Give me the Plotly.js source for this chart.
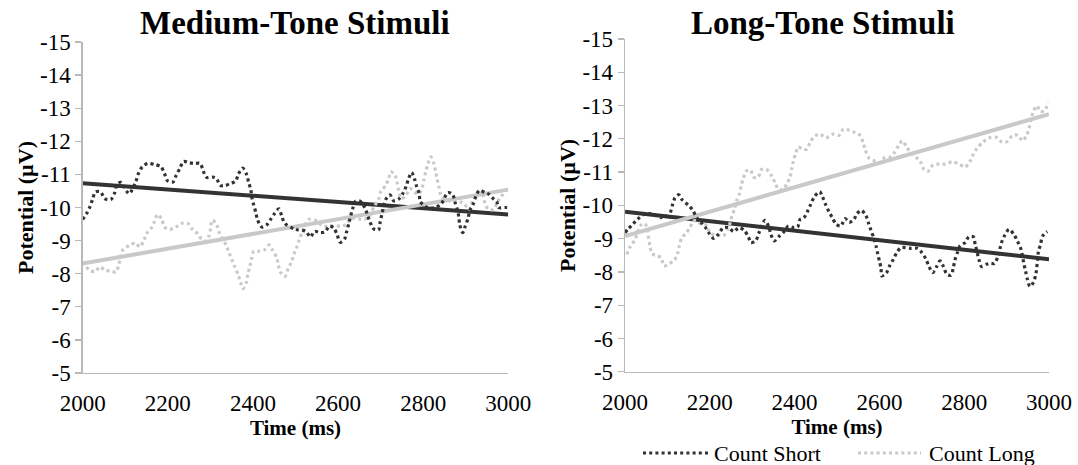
<!DOCTYPE html>
<html>
<head>
<meta charset="utf-8">
<script src="https://cdn.plot.ly/plotly-3.0.1.min.js"></script>
<style>html,body{margin:0;padding:0;background:#fff;}#chart{width:1078px;height:465px;}</style>
</head>
<body>
<div id="chart"></div>
<script>
// ---------- DATA ----------
const panelTitles = ["Medium-Tone Stimuli", "Long-Tone Stimuli"];
const seriesNames = ["Count Short", "Count Long"];
const xTickVals = [2000, 2200, 2400, 2600, 2800, 3000];
const yTickVals = [-15, -14, -13, -12, -11, -10, -9, -8, -7, -6, -5];
const yTickText = ["-15", "-14", "-13", "-12", "-11", "-10", "-9", "-8", "-7", "-6", "-5"];

// Medium-tone, Count Short
const medShortTime = [2000,2009,2017,2023,2030,2042,2052,2066,2075,2080,2089,2109,2125,2131,2140,2153,2169,2184,2192,2200,2212,2220,2229,2237,2250,2262,2276,2283,2291,2305,2315,2323,2334,2348,2359,2366,2376,2385,2390,2395,2398,2402,2407,2411,2421,2432,2442,2451,2461,2468,2475,2500,2524,2535,2545,2558,2569,2580,2590,2598,2605,2615,2620,2625,2634,2641,2652,2663,2675,2684,2695,2699,2703,2712,2722,2731,2743,2753,2760,2766,2773,2780,2785,2791,2793,2811,2829,2843,2858,2869,2875,2880,2884,2886,2893,2899,2905,2910,2918,2924,2932,2945,2955,2966,2973,2977,2992,3000];
const medShortVal = [-9.64,-9.81,-10.02,-10.24,-10.47,-10.47,-10.27,-10.24,-10.44,-10.67,-10.76,-10.42,-10.79,-11.03,-11.23,-11.33,-11.30,-11.23,-11.03,-10.80,-10.77,-10.98,-11.20,-11.39,-11.35,-11.33,-11.33,-11.11,-10.91,-10.92,-10.86,-10.67,-10.66,-10.73,-10.79,-11.01,-11.19,-11.00,-10.76,-10.54,-10.27,-10.07,-9.84,-9.62,-9.41,-9.47,-9.65,-9.82,-9.96,-9.73,-9.52,-9.34,-9.28,-9.11,-9.28,-9.24,-9.26,-9.44,-9.38,-9.17,-8.95,-9.04,-9.26,-9.50,-9.95,-10.19,-10.19,-9.99,-9.56,-9.35,-9.32,-9.56,-9.79,-10.24,-10.38,-10.20,-10.26,-10.44,-10.64,-10.88,-11.06,-10.85,-10.62,-10.40,-10.18,-9.99,-10.00,-10.12,-10.45,-10.40,-10.15,-9.95,-9.70,-9.47,-9.24,-9.44,-9.65,-9.92,-10.12,-10.34,-10.52,-10.45,-10.40,-10.25,-10.17,-10.00,-10.00,-10.00];

// Medium-tone, Count Long
const medLongTime = [2000,2008,2019,2031,2040,2052,2066,2078,2085,2095,2109,2124,2134,2144,2150,2161,2168,2176,2186,2192,2205,2219,2232,2247,2258,2270,2280,2289,2297,2305,2315,2321,2338,2344,2351,2358,2366,2371,2377,2385,2388,2393,2397,2402,2414,2428,2438,2446,2456,2460,2465,2475,2483,2491,2496,2503,2509,2516,2531,2546,2565,2583,2607,2619,2630,2653,2669,2685,2695,2700,2712,2719,2724,2734,2739,2743,2748,2759,2769,2788,2798,2802,2806,2811,2818,2825,2829,2833,2837,2841,2851,2871,2894,2908,2922,2938,2945,2953,2965,2977,2985,2996];
const medLongVal = [-8.35,-8.21,-8.08,-8.08,-8.21,-8.11,-8.08,-8.05,-8.29,-8.73,-8.85,-8.93,-8.81,-9.01,-9.21,-9.37,-9.56,-9.79,-9.64,-9.41,-9.34,-9.41,-9.52,-9.52,-9.34,-9.21,-9.03,-8.99,-9.15,-9.62,-9.47,-9.24,-8.84,-8.63,-8.41,-8.19,-7.95,-7.73,-7.55,-7.75,-7.98,-8.23,-8.46,-8.68,-8.68,-8.73,-8.87,-8.71,-8.48,-8.25,-8.04,-7.92,-8.16,-8.36,-8.58,-8.80,-9.03,-9.26,-9.64,-9.62,-9.44,-9.44,-9.44,-9.48,-9.67,-9.65,-9.67,-10.04,-10.24,-10.47,-10.67,-10.88,-11.08,-10.98,-10.74,-10.49,-10.27,-10.35,-10.57,-10.40,-10.62,-10.85,-11.08,-11.31,-11.53,-11.33,-11.10,-10.85,-10.62,-10.40,-10.22,-10.20,-10.14,-9.94,-10.37,-10.44,-10.14,-9.94,-9.94,-10.22,-10.37,-10.30];

// Long-tone, Count Short
const longShortTime = [2000,2008,2018,2029,2047,2059,2071,2083,2094,2102,2107,2112,2118,2127,2135,2149,2160,2169,2180,2190,2199,2209,2220,2232,2244,2257,2268,2281,2291,2297,2309,2315,2330,2339,2344,2352,2364,2375,2385,2397,2407,2413,2422,2430,2438,2446,2459,2466,2473,2481,2489,2498,2509,2519,2529,2540,2547,2557,2568,2574,2580,2587,2592,2596,2600,2604,2605,2616,2624,2633,2641,2651,2673,2688,2700,2710,2717,2726,2735,2743,2751,2759,2769,2774,2778,2784,2790,2802,2811,2821,2826,2835,2841,2853,2863,2871,2880,2888,2896,2906,2918,2926,2934,2941,2945,2949,2955,2963,2969,2973,2975,2980,2985,2996];
const longShortVal = [-9.18,-9.30,-9.43,-9.58,-9.75,-9.75,-9.71,-9.63,-9.71,-9.58,-9.78,-10.01,-10.23,-10.32,-10.16,-10.01,-9.85,-9.63,-9.48,-9.33,-9.15,-9.01,-9.13,-9.33,-9.33,-9.21,-9.33,-9.25,-9.05,-8.88,-8.95,-9.15,-9.55,-9.36,-9.13,-8.93,-9.08,-9.21,-9.38,-9.33,-9.35,-9.58,-9.63,-9.81,-10.03,-10.25,-10.41,-10.25,-10.03,-9.81,-9.63,-9.43,-9.38,-9.60,-9.49,-9.58,-9.75,-9.85,-9.70,-9.48,-9.25,-9.01,-8.78,-8.55,-8.33,-8.10,-7.88,-7.96,-8.18,-8.38,-8.58,-8.73,-8.71,-8.71,-8.58,-8.38,-8.16,-7.98,-8.16,-8.33,-8.16,-7.93,-7.90,-8.11,-8.35,-8.58,-8.78,-8.88,-9.06,-9.06,-8.83,-8.36,-8.16,-8.23,-8.26,-8.25,-8.48,-8.88,-9.11,-9.28,-9.11,-8.91,-8.68,-8.23,-8.01,-7.78,-7.56,-7.68,-7.93,-8.36,-8.61,-8.83,-9.08,-9.21];

// Long-tone, Count Long
const longLongTime = [2004,2012,2023,2037,2047,2053,2059,2064,2075,2085,2092,2104,2116,2124,2128,2134,2143,2153,2160,2167,2177,2191,2202,2220,2232,2242,2248,2252,2258,2263,2270,2274,2279,2286,2296,2303,2314,2322,2334,2346,2354,2362,2372,2382,2389,2393,2397,2403,2409,2418,2429,2437,2448,2460,2474,2490,2505,2515,2529,2542,2554,2562,2567,2575,2590,2601,2612,2625,2635,2645,2654,2664,2674,2686,2697,2705,2715,2726,2741,2755,2772,2788,2802,2814,2822,2831,2845,2860,2875,2888,2900,2913,2926,2938,2947,2953,2957,2963,2971,2980,2990,2998];
const longLongVal = [-8.53,-8.75,-8.96,-9.40,-9.45,-9.23,-8.76,-8.55,-8.48,-8.43,-8.18,-8.25,-8.35,-8.55,-8.78,-9.03,-9.15,-9.33,-9.51,-9.55,-9.45,-9.41,-9.15,-9.11,-9.08,-9.28,-9.48,-9.68,-9.88,-10.13,-10.36,-10.60,-10.81,-11.03,-11.06,-10.85,-10.85,-11.08,-11.08,-10.88,-10.68,-10.48,-10.48,-10.65,-10.85,-11.08,-11.33,-11.58,-11.76,-11.69,-11.69,-11.91,-12.09,-12.14,-12.03,-12.14,-12.11,-12.29,-12.26,-12.19,-12.11,-11.87,-11.66,-11.43,-11.33,-11.28,-11.43,-11.45,-11.58,-11.79,-11.94,-11.76,-11.58,-11.45,-11.31,-11.08,-11.03,-11.21,-11.24,-11.24,-11.31,-11.24,-11.15,-11.33,-11.55,-11.73,-11.91,-12.03,-12.05,-11.91,-11.91,-12.09,-12.11,-11.94,-12.11,-12.31,-12.56,-12.81,-12.99,-12.82,-12.86,-13.09];

// Linear trend lines (end points)
const trendTime = [2000, 3000];
const medShortTrend = [-10.73, -9.79];
const medLongTrend = [-8.31, -10.54];
const longShortTrend = [-9.81, -8.38];
const longLongTrend = [-9.08, -12.74];

// ---------- STYLE ----------
const darkCol = "#333333";
const lightCol = "#c9c9c9";
const axisCol = "#b8b8b8";
const serif = "Liberation Serif, Times New Roman, serif";
const dotDash = "3px,3.2px";

function dotted(x, y, name, col, xa, ya) {
  return {x: x, y: y, name: name, type: "scatter", mode: "lines",
    line: {color: col, width: 3.2, dash: dotDash, shape: "spline", smoothing: 0.8},
    xaxis: xa, yaxis: ya, showlegend: false, hoverinfo: "x+y"};
}
function trend(y, col, xa, ya) {
  return {x: trendTime, y: y, type: "scatter", mode: "lines",
    line: {color: col, width: 4}, xaxis: xa, yaxis: ya, showlegend: false, hoverinfo: "skip"};
}

const traces = [
  trend(medShortTrend, darkCol, "x", "y"),
  trend(medLongTrend, lightCol, "x", "y"),
  dotted(medLongTime, medLongVal, seriesNames[1], lightCol, "x", "y"),
  dotted(medShortTime, medShortVal, seriesNames[0], darkCol, "x", "y"),
  trend(longShortTrend, darkCol, "x2", "y2"),
  trend(longLongTrend, lightCol, "x2", "y2"),
  dotted(longLongTime, longLongVal, seriesNames[1], lightCol, "x2", "y2"),
  dotted(longShortTime, longShortVal, seriesNames[0], darkCol, "x2", "y2")
];

function xAxis(domain, anchor) {
  return {domain: domain, anchor: anchor, range: [2000, 3000], tickvals: xTickVals,
    showgrid: false, zeroline: false, showline: true, linecolor: axisCol, linewidth: 1.3,
    ticks: "", ticklabelstandoff: 9, tickfont: {family: serif, size: 23, color: "#000"},
    title: {text: "<b>Time (ms)</b>", font: {family: serif, size: 21, color: "#000"}, standoff: 0},
    automargin: false, fixedrange: true};
}
function yAxis(domain, anchor) {
  return {domain: domain, anchor: anchor, range: [-5, -15], tickvals: yTickVals, ticktext: yTickText,
    showgrid: false, zeroline: false, showline: true, linecolor: axisCol, linewidth: 1.3,
    ticks: "outside", ticklen: 6, tickcolor: axisCol, tickwidth: 1.3,
    tickfont: {family: serif, size: 23, color: "#000"},
    title: {text: "<b>Potential (µV)</b>", font: {family: serif, size: 22, color: "#000"}, standoff: 0},
    automargin: false, fixedrange: true};
}

// Legend drawn as line samples + text (samples are styled like the series)
const legendSampleX = [[643, 708], [858, 921]];
const legendTextX = [712, 927];
const legendY = 453;
const legendColors = [darkCol, lightCol];

const shapes = legendSampleX.map((xs, i) => ({
  type: "line", xref: "paper", yref: "paper",
  x0: xs[0] / 1078, x1: xs[1] / 1078, y0: 1 - legendY / 465, y1: 1 - legendY / 465,
  line: {color: legendColors[i], width: 3.2, dash: dotDash}
}));

const annotations = [
  {text: "<b>" + panelTitles[0] + "</b>", xref: "x domain", yref: "paper", x: 0.5, y: 1 - 23/465,
   xanchor: "center", yanchor: "middle", showarrow: false, font: {family: serif, size: 33, color: "#000"}},
  {text: "<b>" + panelTitles[1] + "</b>", xref: "x2 domain", yref: "paper", x: 0.467, y: 1 - 23/465,
   xanchor: "center", yanchor: "middle", showarrow: false, font: {family: serif, size: 33, color: "#000"}}
].concat(seriesNames.map((n, i) => ({
  text: n, xref: "paper", yref: "paper", x: legendTextX[i] / 1078, y: 1 - legendY / 465,
  xanchor: "left", yanchor: "middle", showarrow: false, font: {family: serif, size: 22, color: "#000"}
})));

const layout = {
  width: 1078, height: 465,
  margin: {l: 0, r: 0, t: 0, b: 0},
  paper_bgcolor: "#fff", plot_bgcolor: "#fff",
  showlegend: false,
  xaxis: xAxis([0.0767, 0.4715], "y"),
  yaxis: yAxis([0.1978, 0.9097], "x"),
  xaxis2: xAxis([0.5798, 0.9731], "y2"),
  yaxis2: yAxis([0.2006, 0.9161], "x2"),
  shapes: shapes,
  annotations: annotations
};

Plotly.newPlot("chart", traces, layout, {displayModeBar: false, staticPlot: true});
</script>
</body>
</html>
